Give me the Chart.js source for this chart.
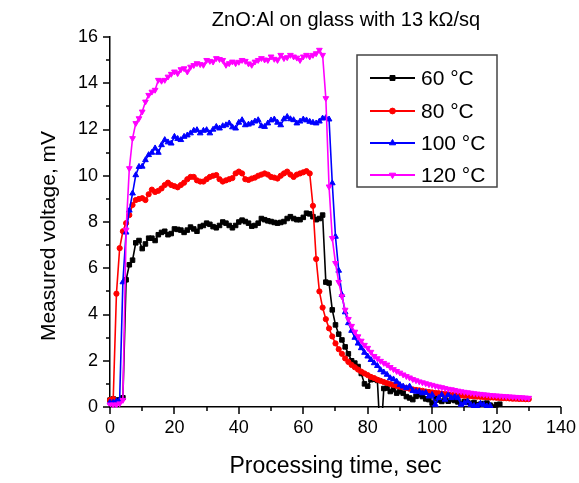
<!DOCTYPE html>
<html><head><meta charset="utf-8">
<script src="https://cdn.jsdelivr.net/npm/chart.js@4"></script>
<style>html,body{margin:0;padding:0;background:#fff}#wrap{width:579px;height:483px;position:relative}</style>
</head><body><div id="wrap"><canvas id="c"></canvas></div>
<script>
const times = [0,1,2,3,4,5,6,7,8,9,10,11,12,13,14,15,16,17,18,19,20,21,22,23,24,25,26,27,28,29,30,31,32,33,34,35,36,37,38,39,40,41,42,43,44,45,46,47,48,49,50,51,52,53,54,55,56,57,58,59,60,61,62,63,64,65,66,67,68,69,70,71,72,73,74,75,76,77,78,79,80,81,82,83,84,85,86,87,88,89,90,91,92,93,94,95,96,97,98,99,100,101,102,103,104,105,106,107,108,109,110,111,112,113,114,115,116,117,118,119,120,121,122,123,124,125,126,127,128,129,130];

const v60 = [0.3,0.35,0.3,0.3,0.4,5.5,6.15,6.35,7.1,7.2,
6.85,7.05,7.3,7.3,7.2,7.45,7.55,7.6,7.45,7.5,
7.7,7.68,7.65,7.55,7.65,7.78,7.7,7.6,7.8,7.85,
7.95,7.9,7.8,7.75,7.85,8.0,7.95,7.85,7.75,7.85,
8.0,8.08,8.02,7.95,7.82,7.85,7.95,8.15,8.1,8.05,
8.02,7.98,7.95,7.98,8.02,8.15,8.23,8.15,8.1,8.1,
8.2,8.38,8.35,8.23,8.1,8.15,8.3,5.4,5.36,4.2,
3.55,3.15,2.9,2.6,2.3,2.0,1.9,1.75,1.45,1.0,
0.9,1.18,1.2,1.15,-1.5,0.8,0.82,0.67,0.75,0.6,
0.67,0.6,0.45,0.39,0.32,0.46,0.53,0.45,0.35,0.32,
0.17,0.39,0.3,0.24,0.32,0.25,0.32,0.28,0.22,0.15,
0.24,0.2,0.15,0.2,0.1,0.12,0.15,0.17,0.08,0.0,
0.1,0.12];

const v80 = [0.3,0.35,4.9,6.87,7.6,7.95,8.3,8.74,8.95,9.0,
9.03,8.95,9.2,9.4,9.3,9.35,9.45,9.6,9.7,9.6,
9.55,9.5,9.6,9.7,9.85,9.95,9.95,9.8,9.75,9.75,
9.85,9.95,10.0,10.03,9.85,9.75,9.8,9.85,9.9,10.1,
10.18,10.1,9.85,9.82,9.88,9.92,10.0,10.05,10.1,10.05,
9.95,9.92,9.88,10.0,10.1,10.18,10.05,9.95,10.05,10.1,
10.15,10.2,10.1,8.7,6.4,5.0,4.3,3.8,3.4,3.05,
2.75,2.5,2.3,2.1,1.95,1.82,1.72,1.62,1.53,1.45,
1.38,1.3,1.25,1.18,1.13,1.08,1.03,0.99,0.95,0.91,
0.88,0.85,0.82,0.79,0.76,0.74,0.72,0.7,0.67,0.65,
0.63,0.61,0.6,0.58,0.57,0.55,0.54,0.52,0.51,0.5,
0.49,0.48,0.47,0.46,0.45,0.44,0.43,0.42,0.41,0.41,
0.4,0.39,0.38,0.38,0.37,0.36,0.36,0.35,0.35,0.34,0.34];

const v100 = [0.2,0.2,0.25,0.3,5.4,7.55,8.5,9.24,10.03,10.39,
10.4,10.68,10.9,11.0,11.19,11.0,11.33,11.55,11.45,11.4,
11.69,11.6,11.55,11.69,11.75,11.84,11.95,11.98,11.84,11.95,
11.98,11.84,12.0,12.12,12.05,12.15,12.19,12.27,12.1,12.05,
12.3,12.41,12.19,12.22,12.27,12.35,12.41,12.15,12.12,12.27,
12.4,12.44,12.3,12.19,12.45,12.55,12.45,12.41,12.27,12.35,
12.44,12.4,12.34,12.3,12.27,12.35,12.48,12.5,12.44,9.68,
7.37,5.9,4.85,4.1,3.63,3.3,3.0,2.75,2.55,2.35,
2.19,2.04,1.9,1.78,1.6,1.5,1.4,1.25,1.2,1.1,
0.96,0.89,0.82,0.89,0.7,0.67,0.67,0.6,0.62,0.46,
0.53,0.1,0.39,0.53,0.32,0.53,0.39,0.45,0.39,0.1,
0.17,0.25,0.1,0.05,0.03,0.15,0.1,0.03,0.05];

const v120 = [0.1,0.1,0.1,0.15,0.3,7.66,10.32,11.62,12.27,12.48,
12.77,13.2,13.49,13.63,13.71,14.14,14.1,14.14,14.28,14.4,
14.5,14.43,14.6,14.64,14.5,14.71,14.78,14.86,14.82,14.79,
15.0,14.96,14.93,15.08,15.04,15.0,14.79,14.86,14.93,14.86,
14.92,15.0,14.96,14.85,14.79,14.93,15.0,15.08,15.02,15.0,
15.15,15.05,15.0,15.22,15.08,15.12,15.22,15.15,15.1,15.0,
15.15,15.22,15.15,15.22,15.29,15.44,15.22,13.35,9.53,7.3,
6.22,5.4,4.78,4.2,3.8,3.5,3.25,3.05,2.86,2.68,
2.55,2.38,2.2,2.1,1.99,1.9,1.83,1.72,1.63,1.55,
1.48,1.4,1.33,1.27,1.2,1.15,1.1,1.06,1.02,0.98,
0.95,0.91,0.88,0.85,0.81,0.78,0.76,0.73,0.7,0.67,
0.65,0.63,0.61,0.59,0.57,0.56,0.54,0.53,0.51,0.5,
0.49,0.48,0.47,0.46,0.45,0.44,0.43,0.42,0.41,0.4,0.39];

const seriesLabels = ['60 °C','80 °C','100 °C','120 °C'];
const xMajorTicks = [0,20,40,60,80,100,120,140];
const xMinorTicks = [10,30,50,70,90,110,130];
const yMajorTicks = [0,2,4,6,8,10,12,14,16];
const yMinorTicks = [1,3,5,7,9,11,13,15];
const chartTitle = 'ZnO:Al on glass with 13 kΩ/sq';
const xTitle = 'Processing time, sec';
const yTitle = 'Measured voltage, mV';

const FONT = '"Liberation Sans", Arial, sans-serif';

function pts(vals){ return vals.map((v,i)=>({x:times[i], y:v})); }

const styles = [
  {color:'#000000', pointStyle:'rect', radius:3.2, rotation:0},
  {color:'#ff0000', pointStyle:'circle', radius:2.6, rotation:0},
  {color:'#0000ff', pointStyle:'triangle', radius:3.3, rotation:0},
  {color:'#ff00ff', pointStyle:'triangle', radius:3.3, rotation:180}
];
const allVals = [v60, v80, v100, v120];

const datasets = allVals.map((vals,i)=>({
  label: seriesLabels[i],
  data: pts(vals),
  borderColor: styles[i].color,
  backgroundColor: styles[i].color,
  pointBackgroundColor: styles[i].color,
  pointBorderColor: styles[i].color,
  pointStyle: styles[i].pointStyle,
  pointRadius: styles[i].radius,
  pointRotation: styles[i].rotation,
  pointBorderWidth: 1,
  borderWidth: 1.6,
  tension: 0,
  order: 3 - i,
  clip: {left: 10, top: 10, right: 10, bottom: 1}
}));

const decor = {
  id: 'decor',
  afterDraw(chart) {
    const {ctx, chartArea: a, scales: {x, y}} = chart;
    ctx.save();
    ctx.strokeStyle = '#000';
    ctx.lineWidth = 1.5;
    ctx.beginPath();
    xMajorTicks.forEach(v => { const p = Math.round(x.getPixelForValue(v)); ctx.moveTo(p, a.bottom); ctx.lineTo(p, a.bottom + 7); });
    xMinorTicks.forEach(v => { const p = Math.round(x.getPixelForValue(v)); ctx.moveTo(p, a.bottom); ctx.lineTo(p, a.bottom + 4); });
    yMajorTicks.forEach(v => { const p = Math.round(y.getPixelForValue(v)); ctx.moveTo(a.left, p); ctx.lineTo(a.left - 7, p); });
    yMinorTicks.forEach(v => { const p = Math.round(y.getPixelForValue(v)); ctx.moveTo(a.left, p); ctx.lineTo(a.left - 4, p); });
    ctx.stroke();
    ctx.fillStyle = '#000';
    ctx.textAlign = 'center';
    ctx.textBaseline = 'middle';
    ctx.font = '20px ' + FONT;
    ctx.fillText(chartTitle, 346, 20);
    ctx.font = '23px ' + FONT;
    ctx.fillText(xTitle, (a.left + a.right) / 2, 467);
    ctx.save();
    ctx.font = '21px ' + FONT;
    ctx.translate(49, 236);
    ctx.rotate(-Math.PI / 2);
    ctx.fillText(yTitle, 0, 0);
    ctx.restore();
    const bx = 357, by = 55, bw = 140, bh = 132;
    ctx.strokeStyle = '#444';
    ctx.lineWidth = 1.5;
    ctx.strokeRect(bx, by, bw, bh);
    const rows = [78, 111, 143, 175];
    chart.data.datasets.forEach((ds, i) => {
      const yy = rows[i];
      ctx.strokeStyle = ds.borderColor;
      ctx.lineWidth = 2;
      ctx.beginPath(); ctx.moveTo(370, yy); ctx.lineTo(415, yy); ctx.stroke();
      ctx.fillStyle = ds.pointBackgroundColor;
      ctx.strokeStyle = ds.pointBorderColor;
      ctx.lineWidth = 1;
      Chart.helpers.drawPoint(ctx, {pointStyle: ds.pointStyle, rotation: ds.pointRotation, radius: ds.pointRadius + 0.3, borderWidth: 1}, 392.5, yy);
      ctx.fillStyle = '#000';
      ctx.font = '21px ' + FONT;
      ctx.textAlign = 'left';
      ctx.textBaseline = 'middle';
      ctx.fillText(ds.label, 421, yy + 1);
    });
    ctx.restore();
  }
};

new Chart(document.getElementById('c'), {
  type: 'line',
  data: { datasets },
  options: {
    responsive: true,
    maintainAspectRatio: false,
    animation: false,
    layout: { padding: { top: 37, right: 18, left: 0, bottom: 0 } },
    plugins: { legend: { display: false }, title: { display: false }, tooltip: { enabled: false } },
    scales: {
      x: {
        type: 'linear', min: 0, max: 140,
        afterFit(s) { s.height = 76; },
        grid: { display: false, drawTicks: true, tickLength: 7 },
        border: { display: true, color: '#000', width: 1.5 },
        ticks: { stepSize: 20, color: '#000', font: { family: FONT, size: 18 }, padding: 3, maxRotation: 0 }
      },
      y: {
        type: 'linear', min: 0, max: 16,
        afterFit(s) { s.width = 110; },
        grid: { display: false, drawTicks: true, tickLength: 7 },
        border: { display: true, color: '#000', width: 1.5 },
        ticks: { stepSize: 2, color: '#000', font: { family: FONT, size: 18 }, padding: 5 }
      }
    }
  },
  plugins: [decor]
});
</script>
</body></html>
